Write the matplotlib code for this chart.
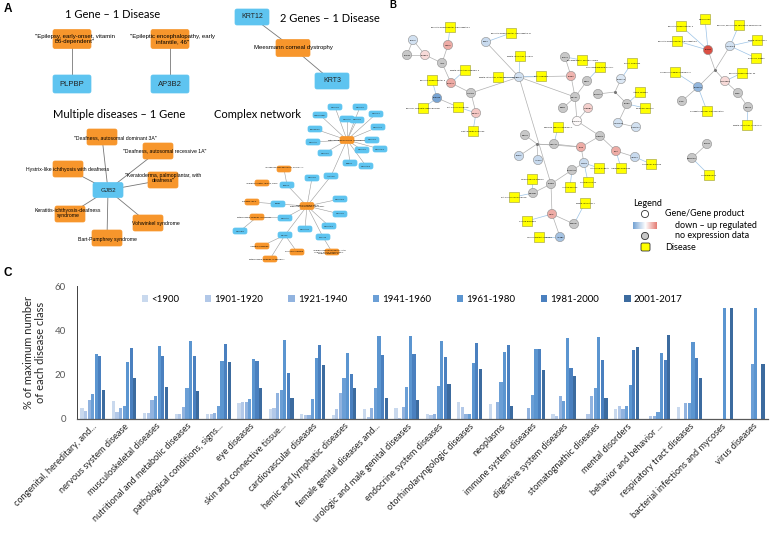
import matplotlib.pyplot as plt
import numpy as np
from matplotlib.patches import FancyBboxPatch, Rectangle, Circle
from matplotlib.colors import LinearSegmentedColormap

# ---------------- data: panel C ----------------
categories = ["congenital, hereditary, and...", "nervous system disease", "musculoskeletal diseases",
              "nutritional and metabolic diseases", "pathological conditions, signs...", "eye diseases",
              "skin and connective tissue...", "cardiovascular diseases", "hemic and lymphatic diseases",
              "female genital diseases and...", "urologic and male genital diseases",
              "endocrine system diseases", "otorhinolaryngologic diseases", "neoplasms",
              "immune system diseases", "digestive system diseases", "stomatognathic diseases",
              "mental disorders", "behavior and behavior ...", "respiratory tract diseases",
              "bacterial infections and mycoses", "virus diseases"]
periods = ["<1900", "1901-1920", "1921-1940", "1941-1960", "1961-1980", "1981-2000", "2001-2017"]

v_1900 = [5, 8.2, 2.5, 2.4, 2.3, 7.2, 4.6, 2.4, 1.6, 4.5, 4.9, 2.4, 7.6, 6.7, 0, 2.2, 0, 4.5, 0, 5.4, 0, 0]
v_1920 = [3.4, 3.1, 2.5, 2.4, 2.3, 7.8, 5.1, 1.9, 4.5, 1, 0.6, 1.8, 5.2, 0, 0, 1.2, 2.2, 6, 1.5, 0, 0, 0]
v_1940 = [8.7, 5.1, 8.7, 5.2, 2.8, 7.8, 11.8, 1.9, 11.7, 5.1, 5.5, 2.4, 2.4, 7.8, 4.9, 10.2, 10.3, 4.5, 1.5, 7.2, 0, 0]
v_1960 = [11.2, 5.8, 10.6, 13.9, 5.7, 8.8, 13.2, 8.8, 18.3, 13.9, 14.5, 14.7, 2.4, 16.6, 10.8, 7.9, 13.9, 6, 3.1, 7.2, 0, 25]
v_1980 = [29.4, 25.5, 32.8, 35.1, 26.2, 27, 35.5, 27.3, 29.8, 37.6, 37.6, 35.1, 25.3, 30.4, 31.6, 36.6, 37, 15.4, 29.8, 34.8, 50, 50]
v_2000 = [28.3, 32.2, 28.6, 28.3, 33.9, 26.1, 20.7, 33.3, 20.4, 28.9, 29.1, 28, 34.5, 33.3, 31.6, 22.9, 26.5, 31, 26.5, 27.4, 0, 0]
v_2017 = [13, 18.7, 14.4, 12.6, 25.6, 14.2, 9.6, 24.3, 13.9, 9.3, 8.5, 15.9, 22.6, 5.8, 21.9, 19.3, 9.3, 32.5, 37.9, 18.3, 50, 25]
series = [v_1900, v_1920, v_1940, v_1960, v_1980, v_2000, v_2017]
bar_colors = ['#c9d9ee', '#b2c8e8', '#91b3df', '#6b9fd6', '#5b95d0', '#4a80bf', '#3c6b9f']

# ---------------- data: panel A ----------------
single_genes = ["PLPBP", "AP3B2"]
single_diseases = ['"Epilepsy, early-onset, vitamin\nB6-dependent"', '"Epileptic encephalopathy, early\ninfantile, 46"']
two_genes = ["KRT12", "KRT3"]
two_disease = "Meesmann corneal dystrophy"
multi_gene = "GJB2"
multi_diseases = ['"Deafness, autosomal dominant 3A"', '"Deafness, autosomal recessive 1A"',
                  'Hystrix-like ichthyosis with deafness', '"Keratoderma, palmoplantar, with\ndeafness"',
                  'Keratitis-ichthyosis-deafness\nsyndrome', 'Vohwinkel syndrome', 'Bart-Pumphrey syndrome']
hub1_genes = ["NDUFS3", "NDUFS1", "TMEM126B", "NDUFA1", "NDUFV1", "NDUFS2", "FOXRED1", "NDUFA10",
              "NDUFS8", "NDUFA9", "NDUFAF1", "NDUFS7", "NDUFS6", "NUBPL", "NDUFAF2", "ACAD9"]
hub2_genes = ["BSND", "NDUFAF5", "NDUFS4", "SURF1", "NDUFA2", "NDUFAF4", "NDUFA12", "PET100", "COX15", "NDUFB3"]
hub2_diseases = ["Pellagra-like 2", "Mitochondrial complex I deficiency", "Infantile syndrome",
                 "Mitochondrial complex IV deficiency", "Nuclear syndrome", '"Cardioencephalomyopathy, fatal\ninfantile, due to cytochrome c\noxidase deficiency 2"']

# ---------------- data: panel B ----------------
b_genes = ["SCN1A", "KCNQ2", "STXBP1", "CDKL5", "ARX", "SLC2A1", "PCDH19", "SPTAN1", "GRIN2A", "CHD2",
           "SCN2A", "KCNT1", "SCN8A", "HCN1", "GNAO1", "DNM1", "GABRB3", "SLC13A5", "SYNGAP1", "ST3GAL3",
           "PLCB1", "TBC1D24", "CACNA1A", "GABRA1", "DOCK7", "NECAP1", "SZT2", "PIGA", "FGF12", "ALG13",
           "IQSEC2", "WWOX", "SLC25A22", "KCNB1", "GRIN2B", "UBA5", "FRRS1L", "AP3B2", "CLCN4", "ATP6AP2",
           "ARHGEF9", "SLC35A2", "CASK", "PNKP", "MECP2", "FOXG1", "CNTNAP2"]
b_expr = [-0.25, None, 0.2, 0.45, None, 0.45, -0.75, None, 0.3, -0.3, -0.25, None, 0.4, None, None, None,
          0.25, None, 0.03, -0.2, None, -0.25, -0.25, None, None, None, 0.45, 0.45, -0.3, -0.3, -0.3,
          -0.3, None, None, None, 0.45, None, -0.5, 0.95, -0.25, 0.2, -0.6, None, None, None, None, None]
b_diseases = ["Epileptic encephalopathy, early infantile 4", "Epileptic encephalopathy, early infantile 11",
              "Mental retardation, X-linked", "Mental retardation syndromic 3", "Epileptic encephalopathy 6",
              "Mental retardation, autosomal dominant 5", "Rett syndrome", "Epilepsy, focal with speech disorder",
              "Pitt-Hopkins syndrome", "Encephalopathy, neonatal severe", "Neurodevelopmental disorder",
              "Dravet syndrome", "Ataxia, episodic", "Myoclonic epilepsy", "Migraine, familial hemiplegic 1",
              "Cleft lip/palate syndrome", "Intellectual disability", "Angelman syndrome", "Hemiplegic migraine",
              "Spinocerebellar ataxia 6", "Schizophrenia 15", "Infantile spasms", "Pitt-Hopkins-like syndrome",
              "Mental retardation 1", "Cortical dysplasia", "Lennox-Gastaut syndrome", "Microcephaly",
              "Epileptic encephalopathy 3", "Epilepsy, generalized, with febrile seizures plus",
              "Epileptic encephalopathy, early infantile 9", "Mental retardation 2", "Deafness, digenic",
              "Hermansky-Pudlak syndrome 10", "Epileptic encephalopathy 25", "Congenital disorder of glycosylation",
              "Mental retardation, X-linked 15", "Hyperekplexia 2"]

fig = plt.figure(figsize=(7.76, 5.34), dpi=100)

# canvas axes in pixel units for the network panels
ax = fig.add_axes([0, 0, 1, 1])
ax.set_xlim(0, 776)
ax.set_ylim(534, 0)
ax.axis('off')

BLUE = '#5ec4f0'
ORANGE = '#f7962c'
SANS = ['Liberation Sans', 'DejaVu Sans']
TITLE = ['Lato', 'DejaVu Sans']
expr_cmap = LinearSegmentedColormap.from_list('expr', ['#4a86c6', '#ffffff', '#d9463a'])


def box(cx, cy, w, h, color, label='', fs=4, tc='#222222'):
    p = FancyBboxPatch((cx - w / 2, cy - h / 2), w, h, boxstyle='round,pad=0,rounding_size=2',
                       fc=color, ec=color, lw=0.5, zorder=3)
    ax.add_patch(p)
    if label:
        ax.text(cx, cy, label, ha='center', va='center', fontsize=fs, family=SANS,
                color=tc, zorder=4, linespacing=1.1)


def line(p, q, color='#777777', lw=0.6, z=1):
    ax.plot([p[0], q[0]], [p[1], q[1]], color=color, lw=lw, zorder=z)


# panel labels
ax.text(4, 9, 'A', fontsize=8.5, fontweight='bold', family=SANS, va='center')
ax.text(389, 5, 'B', fontsize=7, fontweight='bold', family=SANS, va='center')
ax.text(4, 273, 'C', fontsize=8.5, fontweight='bold', family=SANS, va='center')

# ---- panel A: 1 gene - 1 disease ----
ax.text(113, 14, '1 Gene \u2013 1 Disease', fontsize=8, family=TITLE, ha='center', va='center')
for gx, g, d in zip([72, 170], single_genes, single_diseases):
    line((gx, 40), (gx, 84))
    box(gx, 39, 38, 19, ORANGE)
    ax.text(gx + 3, 39, d, ha='center', va='center', fontsize=4.3, family=SANS, zorder=4, linespacing=1.2)
    box(gx, 84, 38, 18, BLUE, g, fs=5.5)

# ---- 2 genes - 1 disease ----
ax.text(330, 18, '2 Genes \u2013 1 Disease', fontsize=8, family=TITLE, ha='center', va='center')
gpos = [(252, 17), (332, 81)]
for (x, y), g in zip(gpos, two_genes):
    line((x, y), (293, 48))
for (x, y), g in zip(gpos, two_genes):
    box(x, y, 34, 16, BLUE, g, fs=5)
box(293, 48, 34, 17, ORANGE)
ax.text(293, 48, two_disease, ha='center', va='center', fontsize=4.3, family=SANS, zorder=4)

# ---- multiple diseases - 1 gene ----
ax.text(119, 115, 'Multiple diseases \u2013 1 Gene', fontsize=8, family=TITLE, ha='center', va='center')
gjb2 = (108, 190)
md_box = [(102, 137), (158, 151), (68, 169), (163, 180), (70, 214), (148, 223), (107, 238)]
md_txt = [(115, 138), (165, 151), (68, 169), (163, 178), (68, 213), (156, 223), (107, 239)]
for p in md_box:
    line(gjb2, p)
for p, t, d in zip(md_box, md_txt, multi_diseases):
    box(p[0], p[1], 30, 16, ORANGE)
    ax.text(t[0], t[1], d, ha='center', va='center', fontsize=3.7, family=SANS, zorder=4, linespacing=1.1)
box(gjb2[0], gjb2[1], 30, 15, BLUE, multi_gene, fs=4.5)

# ---- complex network ----
ax.text(258, 115, 'Complex network', fontsize=8, family=TITLE, ha='center', va='center')
hub1 = (347, 140)
hub1_layout = [(335, 107), (360, 107), (320, 115), (347, 119), (357, 120), (376, 114), (315, 129),
               (378, 127), (372, 140), (313, 142), (380, 149), (325, 153), (362, 150), (350, 163),
               (366, 166), (331, 176)]
hub2 = (307, 206)
hub2_layout = [(278, 204), (340, 199), (340, 214), (287, 185), (285, 218), (329, 226), (305, 229),
               (323, 237), (285, 235), (240, 231)]
hub2_dlayout = [(252, 202), (257, 217), (262, 246), (270, 259), (297, 252), (332, 252)]
for p in hub1_layout:
    line(hub1, p, '#9a9a9a', 0.4)
line(hub2, (331, 176), '#9a9a9a', 0.4)
line(hub2, (312, 178), '#9a9a9a', 0.4)
for p in hub2_layout[:9]:
    line(hub2, p, '#9a9a9a', 0.4)
line((278, 204), (252, 202), '#9a9a9a', 0.4)
line((285, 218), (257, 217), '#9a9a9a', 0.4)
line((257, 217), (240, 231), '#9a9a9a', 0.4)
line((285, 235), (262, 246), '#9a9a9a', 0.4)
line((285, 235), (270, 259), '#9a9a9a', 0.4)
line((285, 235), (297, 252), '#9a9a9a', 0.4)
line((323, 237), (332, 252), '#9a9a9a', 0.4)
line((284, 169), (287, 185), '#9a9a9a', 0.4)
for p, g in zip(hub1_layout, hub1_genes):
    box(p[0], p[1], 14, 6, BLUE, g, fs=1.6)
box(hub1[0], hub1[1], 14, 7, ORANGE)
ax.text(hub1[0], hub1[1], 'Mitochondrial complex I deficiency', fontsize=1.7, ha='center',
        va='center', family=SANS, zorder=4)
box(312, 178, 14, 6, BLUE, 'NDUFS4', fs=1.6)
for p, g in zip(hub2_layout, hub2_genes):
    box(p[0], p[1], 14, 6, BLUE, g, fs=1.6)
for p, d in zip(hub2_dlayout, hub2_diseases):
    box(p[0], p[1], 14, 6, ORANGE)
    ax.text(p[0] - 3, p[1], d, fontsize=1.6, ha='center', va='center', family=SANS, zorder=4)
box(284, 169, 14, 6, ORANGE)
ax.text(284, 167, '"Coenzyme Q10 deficiency, primary 4"', fontsize=1.6, ha='center', va='center',
        family=SANS, zorder=4)
box(262, 183, 14, 6, ORANGE)
ax.text(262, 183, '"Cardiomyopathy, dilated, 1GG"', fontsize=1.6, ha='center', va='center',
        family=SANS, zorder=4)
box(hub2[0], hub2[1], 14, 7, ORANGE)
ax.text(hub2[0], hub2[1], 'Leigh syndrome due to\nmitochondrial complex I deficiency', fontsize=1.6,
        ha='center', va='center', family=SANS, zorder=4)

# ---- panel B ----
g_layout = [(413, 40), (407, 55), (425, 55), (448, 45), (442, 63), (451, 83), (437, 98), (471, 93),
            (476, 113), (486, 42), (519, 77), (565, 57), (571, 76), (587, 81), (575, 97), (563, 108),
            (588, 108), (598, 94), (577, 121), (621, 79), (627, 104), (618, 123), (636, 127), (600, 136),
            (525, 135), (554, 144), (581, 147), (616, 151), (519, 156), (538, 160), (635, 157), (584, 163),
            (572, 170), (551, 184), (533, 193), (552, 214), (574, 224), (560, 237), (708, 50), (730, 46),
            (725, 81), (698, 87), (682, 101), (738, 93), (748, 107), (707, 144), (692, 158)]
junctions = [(537, 144), (715, 70), (615, 92)]
g_edges = [(0, 1), (0, 2), (1, 2), (2, 4), (3, 4), (4, 5), (5, 7), (7, 8), (7, 10), (9, 10), (10, 12),
           (10, 14), (10, 33), (11, 12), (12, 14), (13, 14), (14, 15), (14, 18), (16, 18), (18, 23),
           (23, 26), (23, 27), (26, 25), (26, 31), (27, 30), (31, 32), (32, 33), (33, 34), (33, 35),
           (35, 36), (35, 37), (20, 21), (21, 22), (45, 46), (42, 41), (40, 43), (43, 44)]
j_edges = [(0, 24), (0, 28), (0, 29), (0, 26), (0, 25), (1, 38), (1, 39), (1, 40), (1, 41),
           (2, 17), (2, 19), (2, 20)]
d_layout = [(450, 27), (511, 33), (520, 56), (465, 70), (432, 80), (498, 77), (541, 76), (423, 108),
            (458, 107), (582, 60), (600, 67), (632, 63), (640, 92), (645, 108), (558, 127), (473, 131),
            (599, 168), (621, 168), (651, 164), (532, 179), (588, 182), (570, 187), (514, 197), (585, 203),
            (527, 221), (539, 237), (705, 19), (681, 26), (739, 25), (677, 41), (757, 40), (756, 58),
            (675, 72), (742, 73), (707, 111), (747, 125), (709, 175)]

for a, b in g_edges:
    line(g_layout[a], g_layout[b], '#b0b0b0', 0.5)
for j, g in j_edges:
    line(junctions[j], g_layout[g], '#b0b0b0', 0.5)
for j in junctions:
    ax.plot(*j, 'o', ms=1.2, color='#777777', zorder=2)
line((437, 98), (458, 107), '#b0b0b0', 0.5)

gxy = np.array(g_layout)
for d in d_layout:
    k = np.argmin(((gxy - np.array(d)) ** 2).sum(axis=1))
    line(g_layout[k], d, '#9cc3e6', 0.5)

for (x, y), name, e in zip(g_layout, b_genes, b_expr):
    fc = '#c8c8c8' if e is None else expr_cmap(0.5 + e * 0.5)
    ax.add_patch(Circle((x, y), 4.6, fc=fc, ec='#8c8c8c', lw=0.4, zorder=3))
    ax.text(x, y, name, fontsize=1.5, ha='center', va='center', family=SANS, zorder=4)
for (x, y), name in zip(d_layout, b_diseases):
    ax.add_patch(Rectangle((x - 5, y - 5), 10, 10, fc='#ffff00', ec='#9a9a40', lw=0.4, zorder=3))
    ax.text(x, y + 0.5, name, fontsize=1.5, ha='center', va='center', family=SANS, zorder=4)

# B legend
ax.text(633, 204, 'Legend', fontsize=6.5, family=TITLE, va='center')
ax.add_patch(Circle((645, 214), 3.6, fc='white', ec='#333333', lw=0.6, zorder=3))
ax.text(665, 214, 'Gene/Gene product', fontsize=6.5, family=TITLE, va='center')
grad = np.linspace(0.12, 0.85, 64).reshape(1, -1)
ax.imshow(grad, cmap=expr_cmap, extent=(633, 657, 229, 222), aspect='auto', vmin=0, vmax=1,
          zorder=3)
ax.set_xlim(0, 776)
ax.set_ylim(534, 0)
ax.text(675, 226, 'down \u2013 up regulated', fontsize=6.5, family=TITLE, va='center')
ax.add_patch(Circle((645, 236), 3.6, fc='#c8c8c8', ec='#333333', lw=0.6, zorder=3))
ax.text(675, 236, 'no expression data', fontsize=6.5, family=TITLE, va='center')
ax.add_patch(FancyBboxPatch((641, 243), 9, 8, boxstyle='round,pad=0,rounding_size=1.5',
                            fc='#ffff00', ec='#333333', lw=0.6, zorder=3))
ax.text(665, 247, 'Disease', fontsize=6.5, family=TITLE, va='center')

# ---------------- panel C: bar chart ----------------
bx = fig.add_axes([77 / 776, (534 - 419) / 534, (768 - 77) / 776, (419 - 286) / 534])
x = np.arange(len(categories))
w = 0.8 / 7
for i, (vals, c, lab) in enumerate(zip(series, bar_colors, periods)):
    bx.bar(x - 0.4 + w * (i + 0.5), vals, width=w * 0.88, color=c, label=lab)
bx.set_xlim(-0.5, len(categories) - 0.5)
bx.set_ylim(0, 60)
bx.set_yticks([0, 20, 40, 60])
bx.tick_params(axis='y', length=0, labelsize=7, labelcolor='#595959', pad=8)
bx.tick_params(axis='x', length=0, pad=2)
bx.set_xticks(x)
bx.set_xticklabels(categories, rotation=45, ha='right', rotation_mode='anchor', fontsize=6.6,
                   family=TITLE, color='#262626')
for t in bx.get_yticklabels():
    t.set_family(TITLE)
bx.spines['top'].set_visible(False)
bx.spines['right'].set_visible(False)
bx.spines['left'].set_color('#404040')
bx.spines['left'].set_linewidth(0.7)
bx.spines['bottom'].set_color('#595959')
bx.spines['bottom'].set_linewidth(0.9)
bx.set_ylabel('% of maximum number\nof each disease class', fontsize=8, family=TITLE,
              color='#262626', labelpad=6, linespacing=1.1)
leg = bx.legend(loc='center', bbox_to_anchor=(0.485, 0.9), ncol=7, frameon=False,
                handlelength=0.7, handleheight=0.7, handletextpad=0.3, columnspacing=2.6,
                prop={'family': TITLE, 'size': 7})

fig.savefig('out.png', dpi=100)
